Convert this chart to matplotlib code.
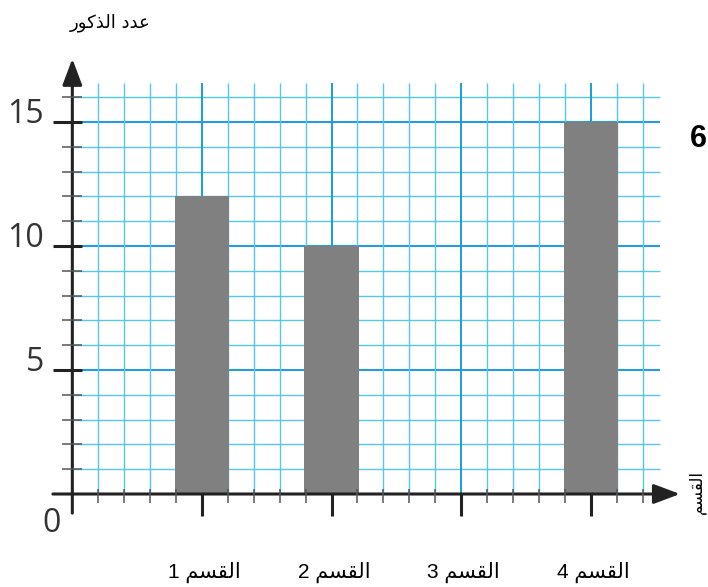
import matplotlib.pyplot as plt

# data
categories = ["1", "2", "3", "4"]
values = [12, 10, 0, 15]
y_labels = [5, 10, 15]

# Arabic words written in presentation forms (visual order) so matplotlib shows them joined
word_section = "\ufee2\ufeb4\ufed8\ufedf\ufe8d"            # القسم
y_title = "\ufead\ufeee\ufedb\ufeac\ufedf\ufe8d \ufea9\ufeaa\ufecb"  # عدد الذكور

# grid units: 5 small squares per category
step = 5
n_vert = 22
n_horiz = 16

minor_c = "#55c8ea"
major_c = "#1a9de0"
axis_c = "#222222"

fig = plt.figure(figsize=(7.08, 5.87), dpi=100)
ax = fig.add_axes([0, 0, 1, 1])
ax.set_xlim(-2.79, 24.52)
ax.set_ylim(-3.75, 19.92)
ax.axis("off")

# grid
for j in range(1, n_horiz + 1):
    c, lw = (major_c, 1.4) if j % 5 == 0 else (minor_c, 1.0)
    ax.hlines(j, 0, 22.66, color=c, lw=lw, zorder=1)
for i in range(1, n_vert + 1):
    c, lw = (major_c, 1.4) if i % step == 0 else (minor_c, 1.0)
    ax.vlines(i, 0, 16.57, color=c, lw=lw, zorder=1)

# bars
pos = [(k + 1) * step for k in range(len(categories))]
ax.bar(pos, values, width=2.1, color="#808080", zorder=2)

# axes with arrows
ax.annotate("", xy=(0, 17.55), xytext=(0, -0.77),
            arrowprops=dict(arrowstyle="-|>,head_length=1.6,head_width=0.6",
                            lw=2.2, color=axis_c, shrinkA=0, shrinkB=0), zorder=4)
ax.annotate("", xy=(23.44, 0), xytext=(-0.75, 0),
            arrowprops=dict(arrowstyle="-|>,head_length=1.6,head_width=0.6",
                            lw=2.2, color=axis_c, shrinkA=0, shrinkB=0), zorder=4)

# y ticks
for j in range(1, n_horiz + 1):
    if j in y_labels:
        ax.hlines(j, -0.74, 0.37, color=axis_c, lw=2.2, zorder=4)
    else:
        ax.hlines(j, -0.39, 0.39, color="#555555", lw=1.1, zorder=4)

# x ticks
for i in range(1, n_vert + 1):
    if i % step == 0:
        ax.vlines(i, -0.87, 0, color=axis_c, lw=2.2, zorder=4)
    else:
        ax.vlines(i, -0.36, 0.2, color="#555555", lw=1.1, zorder=4)

# labels
for v in y_labels:
    ax.text(-1.1, v - 0.05, str(v), ha="right", va="baseline",
            fontsize=23, color="#333333", family="Open Sans")
ax.text(-0.8, -1.2, "0", ha="center", va="center",
        fontsize=23, color="#333333", family="Open Sans")

for p, c in zip(pos, categories):
    ax.text(p + 0.1, -3.15, c + " " + word_section, ha="center", va="center",
            fontsize=15, color="black", family=["Liberation Sans", "DejaVu Sans"])

ax.text(1.45, 19.0, y_title, ha="center", va="center", fontsize=13,
        color="black", family="DejaVu Sans")
ax.text(24.44, 0.1, word_section, ha="right", va="center", rotation=90,
        fontsize=12, color="black", family="DejaVu Sans")
ax.text(24.48, 14.3, "6", ha="right", va="center", fontsize=22,
        fontweight="bold", color="black", family="Liberation Sans")

fig.savefig("out.png", dpi=100)
